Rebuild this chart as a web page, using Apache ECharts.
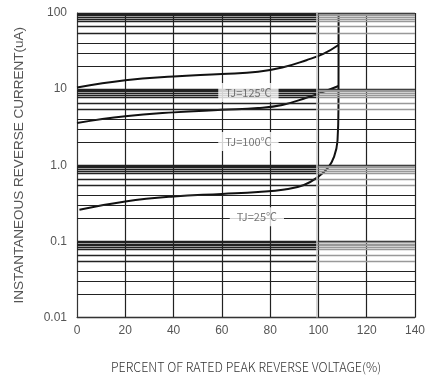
<!DOCTYPE html>
<html><head><meta charset="utf-8">
<script src="https://cdn.jsdelivr.net/npm/echarts@6/dist/echarts.min.js"></script>
<style>html,body{margin:0;padding:0;background:#fff}#c{width:436px;height:379px}</style>
</head><body><div id="c"></div>
<script>
// ---- data ----
const xTicks = [0, 20, 40, 60, 80, 100, 120, 140];
const yTicks = [0.01, 0.1, 1, 10, 100];
const yTickLabels = {0.01: '0.01', 0.1: '0.1', 1: '1.0', 10: '10', 100: '100'};
const xName = 'PERCENT OF RATED PEAK REVERSE VOLTAGE(%)';
const yName = 'INSTANTANEOUS REVERSE CURRENT(uA)';

const tj125 = [[0,10.5],[20,13.1],[40,14.7],[60,15.8],[75,16.9],[85,19.2],[95,24],[102,29],[108.3,38]];
const tj100 = [[0,3.6],[20,4.4],[40,4.95],[60,5.35],[75,5.65],[85,6.2],[95,7.7],[102,9.2],[108.3,11]];
const tj25  = [[1,0.26],[20,0.335],[40,0.39],[60,0.42],[75,0.445],[86,0.48],[94,0.55],[100,0.71],[104,0.93],[106.5,1.3],[107.9,2.1],[108.3,6],[108.35,100]];

const curveLabels = [
  {name: 'TJ=125℃', x: 71, y: 9.0},
  {name: 'TJ=100℃', x: 71, y: 2.05},
  {name: 'TJ=25℃',  x: 74.5, y: 0.21}
];

// grid line multipliers inside each decade (grey beyond 100 %: first group)
const decades = [0.01, 0.1, 1, 10];
const fineMult = [9.6, 9.3, 8.8, 8.3, 7.8, 6.6, 5.4];
const mainMult = [4, 3, 2];

// ---- build ----
const gridLines = [];
decades.forEach(d => {
  fineMult.forEach(m => {
    const v = d * m;
    gridLines.push([{coord:[0,v], lineStyle:{color:'#222', width:1.3}}, {coord:[100,v]}]);
    gridLines.push([{coord:[100,v], lineStyle:{color:'#999', width:1.3}}, {coord:[140,v]}]);
  });
  mainMult.forEach(m => {
    const v = d * m;
    gridLines.push([{coord:[0,v], lineStyle:{color:'#222', width:1.2}}, {coord:[140,v]}]);
  });
});
gridLines.push([{coord:[99.5,0.01], lineStyle:{color:'#c8c8c8', width:1.5}}, {coord:[99.5,100]}]);

const chart = echarts.init(document.getElementById('c'));
const curveStyle = {type:'line', showSymbol:false, smooth:0.45, z:4, silent:true,
  lineStyle:{color:'#111', width:2}, animation:false};
chart.setOption({
  animation: false,
  grid: {left: 77, right: 21, top: 13, bottom: 61},
  xAxis: {
    type: 'value', min: 0, max: 140, interval: 20,
    name: xName, nameLocation: 'middle', nameGap: 44,
    nameTextStyle: {color:'#333', fontSize: 12.5, fontFamily: 'Noto Sans CJK SC', fontWeight: 300},
    axisLine: {show: true, lineStyle: {color:'#333', width:1}},
    axisTick: {show: false},
    axisLabel: {color:'#555', fontSize: 12, margin: 7, fontFamily: 'Liberation Sans',
      formatter: v => xTicks.includes(v) ? String(v) : ''},
    splitLine: {show: true, lineStyle: {color:'#222', width:1.2}}
  },
  yAxis: {
    type: 'log', logBase: 10, min: 0.01, max: 100,
    name: yName, nameLocation: 'middle', nameGap: 51,
    nameTextStyle: {color:'#555', fontSize: 13.5, fontFamily: 'Liberation Sans'},
    axisLine: {show: true, lineStyle: {color:'#333', width:1}},
    axisTick: {show: false},
    axisLabel: {color:'#555', fontSize: 12, margin: 10, fontFamily: 'Liberation Sans',
      formatter: v => { const k = yTicks.find(t => Math.abs(t - v) / t < 1e-6); return k !== undefined ? yTickLabels[k] : ''; }},
    splitLine: {show: true, lineStyle: {color:'#222', width:1.3}}
  },
  series: [
    {type:'line', data: [], z: 1, silent: true,
      markLine: {silent: true, symbol: ['none','none'], label: {show:false}, animation:false,
        lineStyle: {type:'solid'}, data: gridLines}},
    Object.assign({name:'TJ=125℃', data: tj125}, curveStyle),
    Object.assign({name:'TJ=100℃', data: tj100}, curveStyle),
    Object.assign({name:'TJ=25℃', data: tj25}, curveStyle),
    {type:'scatter', z: 6, silent: true, symbolSize: 0,
      data: curveLabels.map(l => ({name: l.name, value: [l.x, l.y]})),
      label: {show: true, position: 'inside', formatter: p => p.name,
        color: '#555', fontSize: 11, fontFamily: 'Noto Sans CJK SC',
        backgroundColor: '#fff', padding: [4, 7]}}
  ]
});
</script></body></html>
